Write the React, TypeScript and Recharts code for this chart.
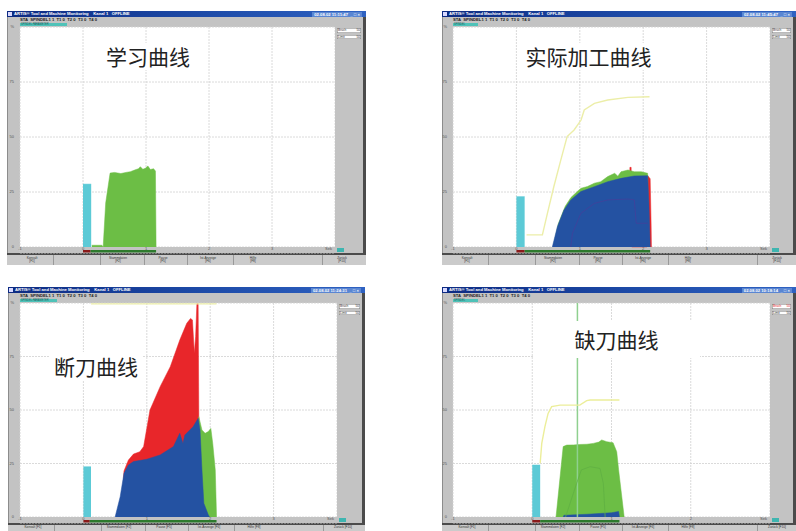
import {
  ComposedChart,
  Area,
  Line,
  XAxis,
  YAxis,
  CartesianGrid,
  ReferenceArea,
  ReferenceLine,
} from "recharts";
import type { ReactNode } from "react";

type Pt = [number, number];

// time in seconds, spindle load in %
const secTicks5 = [-1, 0, 1, 2, 3, 4];
const secTicks4 = [-1, 0, 1, 2, 3];
const loadTicks = [0, 25, 50, 75, 100];

// 学习曲线 (teach-in run)
const learnRapid: Pt[] = [[0, 28.6], [0.13, 28.6]];
const learnLoad: Pt[] = [
  [0.14, 0.8], [0.3, 0.8], [0.32, 0], [0.36, 20], [0.43, 33.6], [0.5, 33.9],
  [0.6, 33.4], [0.7, 34.0], [0.75, 34.2], [0.82, 35.0], [0.88, 35.6], [0.91, 36.5],
  [0.95, 35.3], [0.99, 35.8], [1.03, 36.8], [1.07, 35.2], [1.12, 35.6], [1.15, 34.5],
  [1.16, 0],
];
const learnFeed: Pt = [0, 0.12];
const learnCut: Pt = [0.12, 1.16];

// 实际加工曲线 (actual machining)
const actualRapid: Pt[] = [[0, 22.9], [0.13, 22.9]];
const actualSum: Pt[] = [
  [0.16, 5.5], [0.41, 5.5], [0.49, 15.4], [0.59, 27.4], [0.7, 39.5], [0.8, 50.2],
  [0.91, 53.2], [1.02, 57.7], [1.07, 62.3], [1.23, 65.3], [1.44, 66.8], [1.76, 68.0],
  [2.1, 68.3],
];
const actualOver: Pt[] = [
  [1.78, 0], [1.79, 36.2], [1.81, 36.2], [1.82, 0], [2.06, 0], [2.07, 32.5],
  [2.11, 31], [2.125, 10], [2.13, 0],
];
const actualLearn: Pt[] = [
  [0.58, 0], [0.66, 10.5], [0.77, 18.5], [0.86, 22.5], [0.97, 25.5], [1.02, 26.7],
  [1.12, 27.5], [1.23, 29.0], [1.33, 29.7], [1.44, 32.0], [1.55, 33.5], [1.6, 32.2],
  [1.65, 34.2], [1.76, 35.0], [1.86, 34.2], [1.97, 34.2], [2.07, 33.5], [2.09, 0],
];
const actualLoad: Pt[] = [
  [0.566, 0], [0.646, 9.2], [0.75, 16.8], [0.857, 21.4], [1.016, 25.2], [1.227, 27.4],
  [1.44, 29.7], [1.65, 31.2], [1.86, 32.3], [2.07, 32.4], [2.09, 20], [2.11, 0],
];
const actualLimit: Pt[] = [
  [0.857, 0], [0.884, 6.2], [1.016, 15.3], [1.227, 19.8], [1.44, 21.4], [1.76, 21.8],
  [1.86, 21.4], [1.89, 10.8], [2.07, 10.8],
];
const actualFeed: Pt = [0, 0.13];
const actualCut: Pt = [0.13, 2.11];

// 断刀曲线 (tool breakage)
const brokenRapid: Pt[] = [[0, 23.5], [0.12, 23.5]];
const brokenSum: Pt[] = [[0.12, 99.6], [2.1, 99.6]];
const brokenOver: Pt[] = [
  [0.6, 0], [0.64, 21.5], [0.71, 26.6], [0.79, 29.4], [0.89, 30.5], [0.95, 32.9],
  [1.05, 50], [1.21, 60.9], [1.37, 70.2], [1.52, 82.7], [1.63, 90.5], [1.69, 92.8],
  [1.72, 92.1], [1.75, 76.5], [1.77, 84.3], [1.79, 99.8], [1.81, 99.8], [1.82, 50],
  [1.83, 0],
];
const brokenLearn: Pt[] = [
  [1.8, 0], [1.82, 46.9], [1.87, 40.7], [1.92, 39.1], [1.97, 39.9], [2.01, 41.4],
  [2.04, 34.4], [2.08, 22], [2.1, 0],
];
const brokenLoad: Pt[] = [
  [0.5, 0], [0.58, 9.5], [0.64, 20.4], [0.71, 24.3], [0.79, 25.9], [1.0, 27.0],
  [1.21, 29.0], [1.42, 32.9], [1.52, 39.1], [1.57, 34.4], [1.6, 38.3], [1.73, 42.2],
  [1.81, 46.1], [1.84, 40.7], [1.87, 22.0], [1.9, 6.4], [1.97, 1], [1.99, 0],
];
const brokenFeed: Pt = [0, 0.1];
const brokenCut: Pt = [0.1, 2.1];

// 缺刀曲线 (missing tool)
const missingRapid: Pt[] = [[0, 24.3], [0.1, 24.3]];
const missingSum: Pt[] = [
  [0.1, 25.1], [0.12, 34.4], [0.16, 42.2], [0.2, 48.4], [0.245, 51.6], [0.35, 52.3],
  [0.6, 52.3], [0.687, 54.4], [0.73, 54.7], [1.1, 54.7],
];
const missingLearn: Pt[] = [
  [0.3, 0], [0.39, 32.9], [0.435, 33.6], [0.52, 33.7], [0.6, 33.9], [0.69, 34.0],
  [0.77, 34.4], [0.84, 35.0], [0.876, 36.0], [0.94, 35.2], [1.02, 34.7], [1.066, 30.5],
  [1.09, 22], [1.16, 0],
];
const missingLimit: Pt[] = [
  [0.42, 0], [0.56, 15.7], [0.62, 22], [0.73, 23.5], [0.855, 22.7], [0.897, 15.7],
  [0.92, 0],
];
const missingLoad: Pt[] = [
  [0.39, 0], [0.4, 0.8], [0.7, 1.3], [1.0, 2.0], [1.09, 2.6], [1.1, 0],
];
const missingMarker = 0.57;
const missingFeed: Pt = [0, 0.1];
const missingCut: Pt = [0.1, 1.1];

const softKeys = [
  ["Konvalt", "[F1]"],
  ["Stammdaten", "[F2]"],
  ["Pause", "[F5]"],
  ["Ist-Anzeige", "[F6]"],
  ["Hilfe", "[F8]"],
  ["Zurück", "[F10]"],
];

const CYAN = "#5ccad6";
const GREEN = "#6cbe45";
const BLUE = "#2452a2";
const RED = "#e8262a";
const PALE = "#eceea8";
const FRAME = "#c3c3c3";

const pts = (a: Pt[]) => a.map(([t, v]) => ({ t, v }));

interface Box {
  x: number;
  y: number;
  w: number;
  h: number;
}

const BAND = 6;
const AXIS_W = 13;
const TOP_PAD = 4;

function fill(data: Pt[], color: string) {
  return (
    <Area
      data={pts(data)}
      dataKey="v"
      type="linear"
      baseValue={0}
      stroke={color}
      strokeWidth={0.5}
      fill={color}
      fillOpacity={1}
      dot={false}
      activeDot={false}
      isAnimationActive={false}
    />
  );
}

function trace(data: Pt[], color: string, width = 1.2) {
  return (
    <Line
      data={pts(data)}
      dataKey="v"
      type="linear"
      stroke={color}
      strokeWidth={width}
      dot={false}
      activeDot={false}
      isAnimationActive={false}
    />
  );
}

function Screen({
  win,
  plot,
  ticks,
  clock,
  tagW,
  alarm,
  feed,
  cut,
  children,
}: {
  win: Box;
  plot: Box;
  ticks: number[];
  clock: string;
  tagW: number;
  alarm?: boolean;
  feed: Pt;
  cut: Pt;
  children: ReactNode;
}) {
  const px = plot.x - win.x;
  const py = plot.y - win.y;
  const u = 100 / plot.h;
  const yMin = -BAND * u;
  const last = ticks[ticks.length - 1];
  const bottom = py + plot.h + BAND;
  const barH = win.h - bottom - 2;
  const tall = barH >= 8;
  const keyX = [25, 111, 156, 201, 246, 335];
  const sepX = [46, 93, 137, 180, 226, 315];

  const timeTick = (p: any) => {
    const v = p.payload.value;
    return (
      <text
        x={v === last ? p.x - 3 : p.x}
        y={p.y - 3.5}
        fontSize={4}
        fill="#555"
        textAnchor={v === last ? "end" : "middle"}
      >
        {v === last ? "Sek" : v}
      </text>
    );
  };

  return (
    <div
      style={{
        position: "absolute",
        left: win.x,
        top: win.y,
        width: win.w,
        height: win.h,
        background: FRAME,
        overflow: "hidden",
        boxShadow: "inset 0 0 0 1px #8c8c8c",
      }}
    >
      {/* title bar */}
      <div
        style={{
          position: "absolute",
          left: 0,
          top: 0,
          width: win.w,
          height: 6,
          background: "linear-gradient(90deg,#0d2b82,#1d4ba8 55%,#2f62c2)",
          color: "#fff",
          fontSize: 4.2,
          lineHeight: "6px",
          fontWeight: 700,
          whiteSpace: "nowrap",
        }}
      >
        <span
          style={{
            position: "absolute",
            left: 1,
            top: 1,
            width: 4,
            height: 4,
            background: "#d9d9ff",
          }}
        />
        <span style={{ position: "absolute", left: 7 }}>
          ARTIS® Tool and Machine Monitoring &nbsp;&nbsp; Kanal 1 &nbsp; OFFLINE
        </span>
        <span
          style={{
            position: "absolute",
            right: 4,
            top: 0.5,
            height: 5,
            lineHeight: "5px",
            padding: "0 2px",
            background: "#5a86d2",
          }}
        >
          {clock} &nbsp;_ □ ×
        </span>
      </div>
      {/* header line */}
      <div
        style={{
          position: "absolute",
          left: px,
          top: py - 10,
          fontSize: 4.2,
          color: "#222",
          whiteSpace: "nowrap",
          fontWeight: 700,
        }}
      >
        STA &nbsp;SPINDEL1 1 &nbsp;T1 0 &nbsp;T2 0 &nbsp;T3 0 &nbsp;T4 0
      </div>
      <div
        style={{
          position: "absolute",
          left: px,
          top: py - 4.5,
          width: tagW,
          height: 3.5,
          background: "#4fc2b8",
          fontSize: 2.6,
          lineHeight: "3.5px",
          color: "#1b5e5a",
          whiteSpace: "nowrap",
          paddingLeft: 1,
          boxSizing: "border-box",
        }}
      >
        {tagW > 30 ? "SPINDEL PARAMETER" : "SPINDEL"}
      </div>
      {/* right side value boxes */}
      {["Bruch", "Limit"].map((s, i) => (
        <div
          key={s}
          style={{
            position: "absolute",
            left: px + plot.w + 2,
            top: py + 1 + i * 6.5,
            width: win.w - px - plot.w - 7,
            height: 4.5,
            background: "#fff",
            boxShadow: "inset 0 0 0 0.5px #777",
            fontSize: 3.2,
            lineHeight: "4.5px",
            color: alarm && i === 0 ? "#d22" : "#333",
            display: "flex",
            justifyContent: "space-between",
            padding: "0 1px",
            boxSizing: "border-box",
          }}
        >
          <span>{s}</span>
          <span>50</span>
        </div>
      ))}
      <div
        style={{
          position: "absolute",
          left: px + plot.w + 2,
          top: py + plot.h + 1,
          width: 7,
          height: 4,
          background: "#3fb5b0",
        }}
      />
      {/* dark frame */}
      <div
        style={{
          position: "absolute",
          left: win.w - 3,
          top: 6,
          width: 3,
          height: bottom - 4,
          background: "#4b4b4b",
        }}
      />
      <div
        style={{
          position: "absolute",
          left: 0,
          top: bottom,
          width: win.w,
          height: 2,
          background: "#4b4b4b",
        }}
      />
      {/* soft key bar */}
      <div
        style={{
          position: "absolute",
          left: 0,
          top: bottom + 2,
          width: win.w,
          height: barH,
          background: "#cbcbcb",
        }}
      >
        {sepX.map((x) => (
          <div
            key={x}
            style={{
              position: "absolute",
              left: x,
              top: 0,
              width: 0.6,
              height: 10,
              background: "#999",
            }}
          />
        ))}
        {softKeys.map(([a, b], i) => (
          <div
            key={a}
            style={{
              position: "absolute",
              left: keyX[i] - 18,
              top: tall ? 1.5 : 0.8,
              width: 36,
              textAlign: "center",
              fontSize: 3.2,
              lineHeight: "3.6px",
              color: "#333",
              whiteSpace: "nowrap",
            }}
          >
            {a}
            {tall ? <br /> : " "}
            {b}
          </div>
        ))}
      </div>
      <div style={{ position: "absolute", left: px - AXIS_W, top: py - TOP_PAD }}>
        <ComposedChart
          width={plot.w + AXIS_W}
          height={plot.h + BAND + 1 + TOP_PAD}
          margin={{ top: TOP_PAD, right: 0, bottom: 0, left: 0 }}
        >
          <CartesianGrid
            fill="#ffffff"
            stroke="#d0d0d0"
            strokeDasharray="2 1"
            strokeWidth={0.8}
          />
          <XAxis
            type="number"
            dataKey="t"
            domain={[ticks[0], last]}
            ticks={ticks}
            allowDataOverflow
            height={1}
            tickSize={0}
            tickMargin={0}
            tickLine={false}
            axisLine={false}
            interval={0}
            tick={timeTick}
          />
          <YAxis
            type="number"
            dataKey="v"
            domain={[yMin, 100]}
            ticks={loadTicks}
            allowDataOverflow
            width={AXIS_W}
            tickSize={0}
            tickMargin={6}
            tickLine={false}
            axisLine={false}
            interval={0}
            tick={{ fontSize: 4, fill: "#555" }}
            tickFormatter={(v: number) => (v === 100 ? "%" : String(v))}
          />
          <ReferenceArea
            y1={yMin}
            y2={0}
            fill={FRAME}
            fillOpacity={1}
            stroke="none"
          />
          <ReferenceArea
            x1={feed[0]}
            x2={feed[1]}
            y1={-5.5 * u}
            y2={-3 * u}
            fill="#8a1a1a"
            fillOpacity={1}
            stroke="none"
          />
          <ReferenceArea
            x1={cut[0]}
            x2={cut[1]}
            y1={-5.5 * u}
            y2={-3 * u}
            fill="#2d7a2d"
            fillOpacity={1}
            stroke="none"
          />
          {children}
        </ComposedChart>
      </div>
    </div>
  );
}

function Caption({ box, text }: { box: Box; text: string }) {
  return (
    <div
      style={{
        position: "absolute",
        left: box.x,
        top: box.y,
        width: box.w,
        height: box.h,
        background: "#fff",
        fontFamily: "'Noto Sans CJK SC', sans-serif",
        fontSize: 21,
        lineHeight: `${box.h}px`,
        color: "#222",
        textAlign: "center",
        whiteSpace: "nowrap",
      }}
    >
      {text}
    </div>
  );
}

export default function App() {
  return (
    <div
      style={{
        position: "absolute",
        left: 0,
        top: 0,
        width: 796,
        height: 531,
        background: "#fff",
        overflow: "hidden",
        fontFamily: "Arial, 'Liberation Sans', sans-serif",
      }}
    >
      <Screen
        win={{ x: 7, y: 11, w: 359, h: 254 }}
        plot={{ x: 20, y: 27, w: 315, h: 220 }}
        ticks={secTicks5}
        clock="02.08.02 11:11:47"
        tagW={47}
        feed={learnFeed}
        cut={learnCut}
      >
        {fill(learnRapid, CYAN)}
        {fill(learnLoad, GREEN)}
      </Screen>

      <Screen
        win={{ x: 442, y: 11, w: 354, h: 254 }}
        plot={{ x: 453, y: 27, w: 317, h: 220 }}
        ticks={secTicks5}
        clock="02.08.02 11:45:47"
        tagW={25}
        feed={actualFeed}
        cut={actualCut}
      >
        {fill(actualRapid, CYAN)}
        {trace(actualSum, PALE, 1.4)}
        {fill(actualOver, RED)}
        {fill(actualLearn, GREEN)}
        {fill(actualLoad, BLUE)}
        {trace(actualLimit, "#43409a", 0.8)}
      </Screen>

      <Screen
        win={{ x: 8, y: 287, w: 357, h: 244 }}
        plot={{ x: 20, y: 303, w: 317, h: 214 }}
        ticks={secTicks5}
        clock="02.08.02 11:24:31"
        tagW={37}
        feed={brokenFeed}
        cut={brokenCut}
      >
        {fill(brokenRapid, CYAN)}
        {trace(brokenSum, PALE, 1.4)}
        {fill(brokenOver, RED)}
        {fill(brokenLearn, GREEN)}
        {fill(brokenLoad, BLUE)}
      </Screen>

      <Screen
        win={{ x: 442, y: 287, w: 354, h: 244 }}
        plot={{ x: 453, y: 303, w: 317, h: 214 }}
        ticks={secTicks4}
        clock="02.08.02 10:18:14"
        tagW={25}
        alarm
        feed={missingFeed}
        cut={missingCut}
      >
        <ReferenceLine
          segment={[
            { x: missingMarker, y: 0 },
            { x: missingMarker, y: 100 },
          ]}
          stroke="#8fd08f"
          strokeWidth={1.5}
        />
        {fill(missingRapid, CYAN)}
        {trace(missingSum, "#ecee9a", 1.4)}
        {fill(missingLearn, GREEN)}
        {trace(missingLimit, "#5fb043", 0.8)}
        {fill(missingLoad, BLUE)}
      </Screen>

      <Caption box={{ x: 100, y: 43, w: 96, h: 27 }} text="学习曲线" />
      <Caption box={{ x: 520, y: 43, w: 137, h: 27 }} text="实际加工曲线" />
      <Caption box={{ x: 49, y: 352, w: 94, h: 28 }} text="断刀曲线" />
      <Caption box={{ x: 533, y: 321, w: 167, h: 37 }} text="缺刀曲线" />
    </div>
  );
}
